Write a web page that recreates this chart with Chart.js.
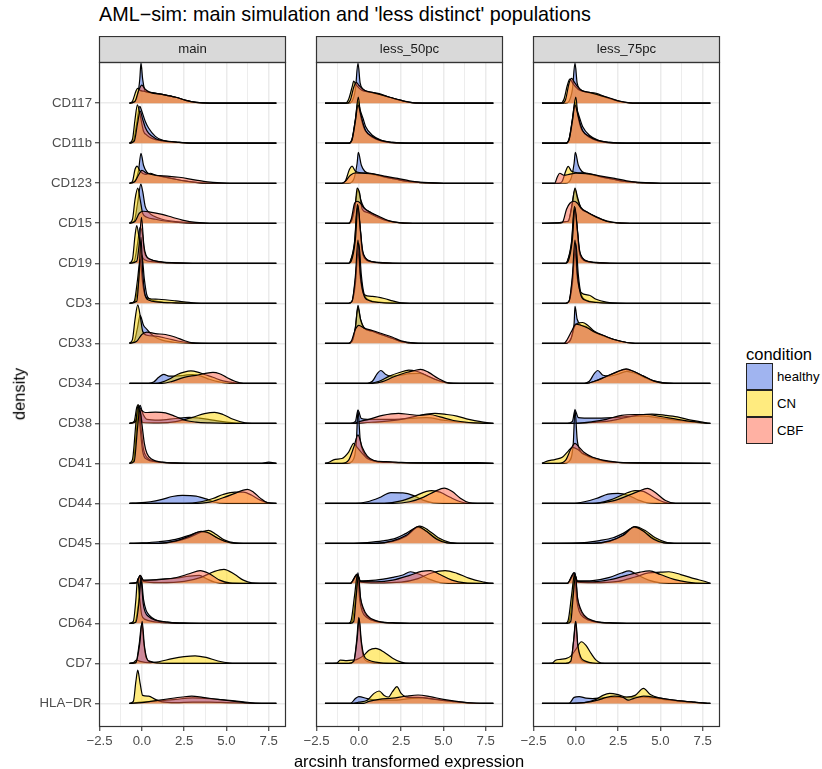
<!DOCTYPE html>
<html lang="en">
<head>
<meta charset="UTF-8">
<title>AML-sim ridges</title>
<script src="https://cdn.jsdelivr.net/npm/chart.js"></script>
<style>
  body { margin: 0; background: #fff; font-family: "Liberation Sans", Arial, sans-serif; }
  #wrap { position: relative; width: 822px; height: 769px; overflow: hidden; background: #fff; }
  canvas { position: absolute; }
  .txt { position: absolute; white-space: nowrap; line-height: 1; color: #000; }
  .key { position: absolute; left: 746px; width: 27px; height: 27px; box-sizing: border-box; border: 1px solid #222; }
  .klab { position: absolute; left: 777px; height: 27px; line-height: 27px; font-size: 13.2px; color: #000; }
</style>
</head>
<body>
<div id="wrap">
  <div class="txt" style="left:99px; top:5px; font-size:19.8px;">AML&minus;sim: main simulation and 'less distinct' populations</div>
  <canvas id="p0" width="300" height="731" style="left:0px; top:36px;"></canvas>
  <canvas id="p1" width="219" height="731" style="left:300px; top:36px;"></canvas>
  <canvas id="p2" width="219" height="731" style="left:517px; top:36px;"></canvas>
  <div class="txt" style="left:19px; top:394px; font-size:16.5px; transform:translate(-50%,-50%) rotate(-90deg);">density</div>
  <div class="txt" style="left:409px; top:761px; font-size:16.5px; transform:translate(-50%,-50%);">arcsinh transformed expression</div>
  <div class="txt" style="left:746px; top:346px; font-size:16.5px;">condition</div>
  <div class="key" style="top:363px; background:rgba(65,105,225,0.5);"></div>
  <div class="key" style="top:390px; background:rgba(255,215,0,0.5);"></div>
  <div class="key" style="top:417px; background:rgba(255,99,71,0.5);"></div>
  <div class="klab" style="top:363px;">healthy</div>
  <div class="klab" style="top:390px;">CN</div>
  <div class="klab" style="top:417px;">CBF</div>
</div>

<script>
const markers = ['CD117','CD11b','CD123','CD15','CD19','CD3','CD33','CD34','CD38','CD41','CD44','CD45','CD47','CD64','CD7','HLA\u2212DR'];
const panelNames = ['main', 'less_50pc', 'less_75pc'];
const conditions = ['healthy', 'CN', 'CBF'];
const xTicks = [-2.5, 0, 2.5, 5, 7.5];
const xMinorTicks = [-1.25, 1.25, 3.75, 6.25];
// x range over which each panel's densities were estimated
const densityRange = [[-0.73, 7.95], [-2.0, 7.95], [-2.0, 7.95]];

// ridge heights, one flat list of (x, scaled density) pairs per marker
const main_healthy = [
  [-0.45,0.03, -0.25,0.2, -0.12,0.6, -0.05,1.0, 0.05,0.6, 0.2,0.3, 0.5,0.26, 1.2,0.22, 2.0,0.15, 2.6,0.07, 3.2,0.02, 4,0],
  [-0.5,0.05, -0.3,0.5, -0.12,0.92, 0,0.8, 0.2,0.55, 0.4,0.38, 0.8,0.17, 1.2,0.08, 2.2,0.02, 3,0],
  [-0.45,0.03, -0.2,0.3, -0.05,0.75, 0.1,0.45, 0.3,0.28, 0.6,0.22, 1.2,0.17, 2,0.1, 3,0.03, 4,0],
  [-0.45,0.05, -0.25,0.5, -0.06,0.98, 0.05,0.8, 0.2,0.42, 0.4,0.28, 0.7,0.18, 1.2,0.1, 2,0.04, 3,0.01, 4,0],
  [-0.45,0.05, -0.25,0.5, -0.1,0.9, 0.05,0.7, 0.15,0.3, 0.3,0.15, 0.6,0.08, 1.2,0.03, 2,0.01, 3,0],
  [-0.4,0.05, -0.2,0.5, 0,1.2, 0.15,0.6, 0.3,0.2, 0.5,0.1, 1,0.04, 2,0.01, 3,0],
  [-0.45,0.05, -0.25,0.4, -0.1,0.7, 0.1,0.45, 0.3,0.35, 0.5,0.25, 0.8,0.15, 1.2,0.08, 2,0.02, 3,0],
  [0.4,0, 0.7,0.03, 1.0,0.15, 1.3,0.225, 1.6,0.18, 2.0,0.18, 2.5,0.2, 3.0,0.22, 3.5,0.18, 4.0,0.1, 4.5,0.04, 5.2,0],
  [-0.4,0.05, -0.2,0.35, -0.1,0.45, 0.05,0.25, 0.3,0.1, 1,0.08, 2,0.12, 2.8,0.15, 3.4,0.13, 4.2,0.08, 5,0.03, 6,0],
  [-0.5,0.05, -0.3,0.9, -0.18,1.42, -0.05,0.9, 0.1,0.35, 0.3,0.15, 0.8,0.05, 1.5,0.02, 2.5,0, 7,0, 7.5,0.03],
  [-0.2,0.01, 0.5,0.04, 1.2,0.1, 1.8,0.17, 2.4,0.2, 3.2,0.18, 3.8,0.11, 4.3,0.03, 5,0],
  [0,0.01, 1,0.04, 2,0.1, 2.8,0.2, 3.5,0.29, 4.0,0.25, 4.6,0.1, 5.2,0.02, 6,0],
  [-0.3,0.02, -0.1,0.2, 0.1,0.07, 1,0.1, 2,0.13, 2.8,0.18, 3.4,0.2, 3.8,0.12, 4.3,0.03, 5,0],
  [-0.4,0.03, -0.2,0.5, -0.05,1.18, 0.1,0.6, 0.25,0.33, 0.45,0.2, 0.8,0.09, 1.5,0.03, 2.5,0.01, 3.5,0],
  [-0.35,0.02, -0.15,0.5, 0,1.0, 0.12,0.5, 0.25,0.15, 0.5,0.05, 1,0.01, 2,0],
  [0,0.03, 1,0.06, 2,0.1, 3,0.14, 4,0.12, 5,0.08, 6,0.04, 6.7,0.01, 7.5,0]
];
const main_CN = [
  [-0.55,0.05, -0.35,0.3, -0.25,0.37, -0.1,0.32, 0.1,0.3, 0.5,0.27, 1.2,0.22, 2.0,0.15, 2.6,0.07, 3.2,0.02, 4,0],
  [-0.55,0.1, -0.4,0.6, -0.26,0.96, -0.1,0.7, 0.1,0.3, 0.3,0.2, 0.6,0.12, 1.2,0.06, 2.2,0.02, 3,0],
  [-0.55,0.05, -0.4,0.35, -0.28,0.43, -0.1,0.3, 0.2,0.22, 0.5,0.25, 0.8,0.2, 1.5,0.14, 2.5,0.06, 3.5,0.01, 4.5,0],
  [-0.55,0.1, -0.4,0.6, -0.24,0.88, -0.1,0.6, 0.05,0.25, 0.3,0.15, 0.8,0.1, 1.5,0.05, 2.5,0.01, 3.5,0],
  [-0.55,0.1, -0.4,0.7, -0.3,0.94, -0.15,0.6, 0,0.2, 0.2,0.08, 0.6,0.04, 1.5,0.01, 2.5,0],
  [-0.45,0.05, -0.25,0.6, -0.1,1.1, 0.05,0.5, 0.2,0.18, 0.4,0.12, 1,0.1, 2,0.06, 2.8,0.02, 3.5,0],
  [-0.55,0.1, -0.4,0.6, -0.24,0.96, -0.1,0.7, 0.05,0.3, 0.3,0.2, 0.8,0.18, 1.5,0.12, 2.2,0.05, 3,0.01, 4,0],
  [0.8,0, 1.2,0.03, 1.6,0.1, 2.1,0.22, 2.5,0.28, 2.9,0.31, 3.3,0.28, 3.7,0.22, 4.2,0.15, 4.8,0.06, 5.5,0.01, 6,0],
  [-0.45,0.05, -0.3,0.4, -0.22,0.46, -0.1,0.3, 0.05,0.02, 1,0.01, 2,0.04, 3,0.15, 3.7,0.24, 4.3,0.275, 4.8,0.22, 5.4,0.1, 6.1,0.01, 6.5,0],
  [-0.55,0.1, -0.35,1.0, -0.22,1.47, -0.1,0.9, 0.05,0.3, 0.3,0.1, 0.8,0.04, 1.5,0.01, 2.5,0],
  [2.5,0, 3.5,0.04, 4.2,0.12, 4.8,0.22, 5.5,0.28, 6.0,0.28, 6.5,0.2, 7,0.08, 7.5,0.01, 7.9,0],
  [1,0, 2,0.05, 2.8,0.15, 3.5,0.28, 3.95,0.325, 4.4,0.22, 4.9,0.08, 5.5,0.01, 6,0],
  [-0.3,0.02, -0.1,0.18, 0.1,0.05, 1,0.02, 2.5,0.05, 3.5,0.15, 4.3,0.3, 4.85,0.35, 5.5,0.22, 6.0,0.08, 6.5,0.01, 7,0],
  [-0.5,0.05, -0.35,0.6, -0.25,1.12, -0.12,0.6, 0,0.2, 0.2,0.1, 0.6,0.05, 1.5,0.01, 2.5,0],
  [-0.5,0.02, -0.3,0.08, -0.1,0.05, 0.5,0.02, 1,0.04, 1.8,0.12, 2.5,0.17, 3.15,0.19, 3.8,0.15, 4.5,0.06, 5.2,0.01, 6,0],
  [-0.5,0.05, -0.35,0.55, -0.24,0.83, -0.1,0.5, 0.05,0.2, 0.4,0.18, 0.8,0.1, 1.2,0.04, 2,0.02, 3,0.03, 4,0.03, 5,0.02, 6,0.01, 7,0]
];
const main_CBF = [
  [-0.4,0.05, -0.2,0.3, 0,0.45, 0.2,0.35, 0.5,0.27, 1.2,0.22, 2,0.15, 2.6,0.07, 3.2,0.02, 4,0],
  [-0.45,0.05, -0.25,0.5, -0.1,0.8, 0.05,0.6, 0.2,0.4, 0.4,0.25, 0.8,0.12, 1.2,0.07, 2.2,0.02, 3,0],
  [-0.4,0.05, -0.2,0.2, 0,0.32, 0.3,0.25, 0.8,0.2, 1.5,0.18, 2.2,0.15, 3.2,0.08, 4.2,0.02, 5.2,0],
  [-0.4,0.05, -0.15,0.25, 0.1,0.3, 0.5,0.28, 1.2,0.22, 1.8,0.15, 2.4,0.08, 3.2,0.02, 4,0],
  [-0.3,0.05, -0.15,0.5, -0.02,1.15, 0.12,0.45, 0.25,0.2, 0.5,0.1, 1,0.04, 2,0.01, 3,0],
  [-0.3,0.05, -0.15,0.8, -0.05,1.65, 0.05,0.8, 0.2,0.2, 0.4,0.08, 1,0.03, 2,0.01, 3,0],
  [-0.3,0.05, 0,0.22, 0.3,0.28, 0.8,0.24, 1.4,0.22, 2,0.15, 2.5,0.07, 3,0.01, 3.5,0],
  [1.2,0, 1.8,0.05, 2.5,0.15, 3.2,0.2, 3.7,0.24, 4.2,0.275, 4.6,0.24, 5.0,0.15, 5.5,0.05, 6,0],
  [-0.35,0.05, -0.15,0.4, 0,0.32, 0.2,0.27, 0.8,0.28, 1.4,0.26, 2,0.17, 2.6,0.07, 3.2,0.03, 4,0.01, 5,0],
  [-0.45,0.05, -0.25,0.9, -0.12,1.35, 0,1.0, 0.15,0.5, 0.3,0.25, 0.6,0.1, 1.2,0.03, 2,0.01, 3,0],
  [3,0, 4,0.03, 4.8,0.14, 5.5,0.25, 6.0,0.33, 6.25,0.35, 6.6,0.28, 7.0,0.13, 7.4,0.02, 7.9,0],
  [1,0, 2,0.06, 2.8,0.18, 3.5,0.3, 3.9,0.27, 4.4,0.15, 5,0.04, 5.6,0],
  [-0.3,0.02, -0.1,0.2, 0.1,0.08, 1,0.09, 2,0.14, 2.8,0.24, 3.45,0.32, 4.0,0.24, 4.6,0.08, 5.2,0.01, 6,0],
  [-0.35,0.03, -0.15,0.6, -0.05,1.1, 0.08,0.5, 0.2,0.28, 0.4,0.17, 0.8,0.08, 1.5,0.03, 2.5,0],
  [-0.35,0.02, -0.12,0.5, 0.02,1.05, 0.15,0.45, 0.3,0.12, 0.5,0.04, 1,0.01, 2,0],
  [0,0.02, 0.5,0.05, 1.5,0.11, 2.4,0.16, 2.95,0.18, 3.6,0.15, 4.5,0.1, 5.5,0.05, 6.3,0.01, 7,0]
];

const less50_healthy = [
  [-0.6,0, -0.4,0.05, -0.2,0.35, -0.05,1.0, 0.08,0.5, 0.25,0.35, 0.6,0.28, 1.2,0.22, 1.8,0.15, 2.5,0.07, 3,0.02, 3.8,0],
  [-0.6,0, -0.4,0.1, -0.2,0.6, -0.05,1.04, 0.1,0.8, 0.25,0.62, 0.4,0.42, 0.8,0.2, 1.3,0.08, 2,0.02, 3,0],
  [-0.6,0, -0.3,0.1, -0.1,0.5, -0.03,0.77, 0.15,0.45, 0.35,0.3, 0.8,0.22, 1.5,0.16, 2.2,0.1, 3,0.04, 4,0.01, 5,0],
  [-0.6,0, -0.4,0.1, -0.2,0.5, -0.05,0.85, 0.1,0.6, 0.3,0.4, 0.7,0.27, 1.2,0.15, 1.8,0.05, 2.5,0.01, 3.5,0],
  [-0.6,0, -0.5,0.05, -0.25,0.5, -0.08,1.4, 0.08,0.9, 0.2,0.33, 0.35,0.15, 0.7,0.05, 1.2,0.02, 2,0],
  [-0.6,0, -0.4,0.05, -0.2,0.6, 0,1.5, 0.15,0.7, 0.3,0.25, 0.6,0.08, 1.2,0.03, 2,0.01, 3,0],
  [-0.6,0, -0.4,0.05, -0.2,0.4, -0.05,0.95, 0.1,0.6, 0.3,0.38, 0.8,0.3, 1.3,0.22, 2,0.12, 2.5,0.04, 3,0.01, 3.5,0],
  [0.5,0, 0.8,0.05, 1.1,0.25, 1.3,0.32, 1.6,0.22, 1.9,0.18, 2.4,0.2, 3,0.24, 3.6,0.25, 4.2,0.15, 4.8,0.05, 5.4,0],
  [-0.5,0, -0.2,0.05, -0.05,0.33, 0.15,0.12, 0.5,0.1, 1.2,0.1, 2,0.1, 3,0.12, 4,0.14, 5,0.08, 6,0.03, 7,0.01, 7.9,0],
  [-0.7,0, -0.4,0.05, -0.15,0.5, -0.05,1.33, 0.08,0.6, 0.25,0.3, 0.6,0.12, 1,0.05, 2,0.02, 4,0.01, 7,0.02, 7.9,0],
  [-0.2,0, 0.5,0.04, 1.2,0.14, 1.9,0.27, 2.6,0.26, 3.2,0.2, 3.8,0.08, 4.4,0.01, 5,0],
  [-0.5,0, 0.5,0.02, 1.4,0.06, 2.2,0.13, 2.8,0.25, 3.5,0.4, 4,0.3, 4.6,0.12, 5.2,0.02, 6,0],
  [-0.5,0, -0.1,0.23, 0.1,0.06, 1,0.08, 2,0.15, 2.6,0.21, 3.05,0.29, 3.5,0.24, 4.2,0.1, 4.8,0.02, 5.5,0],
  [-0.6,0, -0.4,0.05, -0.2,0.6, -0.05,1.27, 0.1,0.6, 0.25,0.35, 0.5,0.17, 1,0.06, 2,0.01, 3,0],
  [-0.6,0, -0.3,0.05, -0.12,0.6, 0,1.15, 0.12,0.6, 0.25,0.2, 0.5,0.05, 1,0.01, 2,0],
  [-0.5,0, -0.2,0.12, 0,0.17, 0.5,0.12, 1,0.08, 2,0.08, 3,0.12, 3.8,0.14, 4.6,0.1, 5.5,0.05, 6.5,0.01, 7.5,0]
];
const less50_CN = [
  [-0.8,0, -0.6,0.1, -0.4,0.4, -0.3,0.55, -0.15,0.45, 0.2,0.32, 0.6,0.28, 1.2,0.24, 1.8,0.15, 2.5,0.07, 3,0.02, 3.8,0],
  [-0.6,0, -0.4,0.1, -0.2,0.6, -0.03,1.15, 0.1,0.7, 0.25,0.45, 0.4,0.3, 0.8,0.15, 1.3,0.06, 2,0.01, 3,0],
  [-1,0, -0.8,0.05, -0.55,0.35, -0.4,0.43, -0.2,0.3, 0.2,0.26, 0.7,0.25, 1.5,0.16, 2.2,0.1, 3,0.04, 4,0.01, 5,0],
  [-0.6,0, -0.4,0.1, -0.2,0.5, -0.1,0.88, 0.05,0.75, 0.2,0.35, 0.5,0.27, 1,0.17, 1.6,0.07, 2.5,0.01, 3.5,0],
  [-0.6,0, -0.5,0.05, -0.25,0.55, -0.08,1.47, 0.08,0.85, 0.2,0.3, 0.35,0.12, 0.7,0.04, 1.2,0.01, 2,0],
  [-0.6,0, -0.4,0.05, -0.2,0.5, -0.05,1.3, 0.1,0.6, 0.3,0.22, 0.8,0.17, 1.5,0.12, 2,0.06, 2.5,0.01, 3,0],
  [-0.6,0, -0.4,0.05, -0.2,0.4, -0.05,0.9, 0.1,0.6, 0.3,0.4, 0.8,0.3, 1.3,0.22, 2,0.12, 2.5,0.04, 3,0.01, 3.5,0],
  [0.6,0, 1.2,0.05, 1.8,0.18, 2.4,0.27, 2.95,0.33, 3.4,0.3, 3.9,0.22, 4.5,0.1, 5.1,0.02, 5.8,0],
  [-0.3,0, 0.5,0.02, 1.5,0.05, 2.5,0.1, 3.4,0.18, 4.0,0.23, 4.5,0.25, 5.2,0.22, 5.8,0.18, 6.5,0.1, 7.2,0.04, 7.9,0],
  [-1.8,0.02, -1.4,0.1, -1,0.12, -0.6,0.28, -0.3,0.5, -0.1,0.4, 0.2,0.25, 0.5,0.12, 1,0.05, 2,0.02, 4,0.01, 7.9,0],
  [1.5,0, 2.5,0.06, 3.3,0.18, 4.0,0.3, 4.3,0.32, 4.8,0.28, 5.4,0.15, 6,0.04, 6.5,0],
  [1,0, 2,0.05, 2.8,0.18, 3.6,0.43, 4.1,0.33, 4.7,0.14, 5.4,0.02, 6,0],
  [-0.5,0, -0.1,0.2, 0.1,0.03, 1,0.01, 2.5,0.03, 3.5,0.12, 4.3,0.26, 5.1,0.32, 5.8,0.25, 6.5,0.13, 7.3,0.04, 7.9,0],
  [-0.6,0, -0.45,0.08, -0.25,0.7, -0.08,1.22, 0.05,0.6, 0.2,0.3, 0.5,0.14, 1,0.05, 2,0.01, 3,0],
  [-1.3,0.01, -1.1,0.08, -0.7,0.07, -0.4,0.08, -0.1,0.1, 0.3,0.2, 0.6,0.33, 1,0.375, 1.5,0.28, 2,0.13, 2.5,0.03, 3,0],
  [-0.5,0, 0,0.03, 0.5,0.08, 0.9,0.25, 1.2,0.31, 1.5,0.2, 1.75,0.16, 2.0,0.3, 2.25,0.42, 2.5,0.25, 2.9,0.15, 3.5,0.15, 4.5,0.1, 5.5,0.05, 6.5,0.01, 7.5,0]
];
const less50_CBF = [
  [-0.7,0, -0.5,0.08, -0.3,0.4, -0.15,0.52, 0,0.45, 0.3,0.33, 0.8,0.27, 1.4,0.2, 2,0.13, 2.6,0.06, 3.2,0.01, 4,0],
  [-0.6,0, -0.4,0.08, -0.2,0.55, -0.05,0.95, 0.1,0.75, 0.25,0.5, 0.4,0.32, 0.8,0.17, 1.3,0.07, 2,0.02, 3,0],
  [-1,0, -0.8,0.05, -0.5,0.2, -0.2,0.26, 0.2,0.25, 0.7,0.24, 1.5,0.18, 2.3,0.12, 3,0.06, 3.8,0.02, 5,0],
  [-0.6,0, -0.45,0.1, -0.25,0.5, -0.1,0.55, 0.1,0.5, 0.3,0.38, 0.7,0.27, 1.2,0.17, 1.8,0.06, 2.5,0.01, 3.5,0],
  [-0.6,0, -0.45,0.05, -0.2,0.6, -0.05,1.45, 0.1,0.8, 0.22,0.33, 0.4,0.13, 0.8,0.04, 1.5,0.01, 2.5,0],
  [-0.6,0, -0.4,0.05, -0.2,0.7, -0.05,1.58, 0.1,0.7, 0.3,0.2, 0.6,0.07, 1.2,0.02, 2,0],
  [-0.6,0, -0.45,0.05, -0.2,0.35, 0,0.45, 0.3,0.38, 0.8,0.32, 1.3,0.25, 2,0.15, 2.5,0.06, 3.2,0.01, 4,0],
  [0.8,0, 1.4,0.04, 2,0.15, 2.8,0.27, 3.3,0.32, 3.65,0.35, 4.1,0.28, 4.7,0.12, 5.3,0.01, 6,0],
  [-0.3,0, 0,0.04, 0.6,0.1, 1.4,0.2, 2.35,0.25, 3,0.22, 3.6,0.2, 4.2,0.22, 4.8,0.16, 5.6,0.07, 6.5,0.02, 7.5,0],
  [-1,0, -0.6,0.08, -0.3,0.4, -0.05,0.71, 0.2,0.4, 0.5,0.18, 0.9,0.07, 1.6,0.04, 2.2,0.03, 3,0.01, 7.9,0],
  [2,0, 3,0.04, 3.8,0.15, 4.5,0.3, 5.05,0.38, 5.5,0.3, 6,0.13, 6.5,0.02, 7,0],
  [1,0, 2,0.06, 2.8,0.2, 3.5,0.42, 4,0.3, 4.6,0.1, 5.2,0.01, 6,0],
  [-0.5,0, -0.1,0.22, 0.1,0.05, 1,0.04, 2,0.08, 3,0.2, 3.7,0.3, 4.25,0.32, 4.8,0.22, 5.5,0.08, 6.3,0.01, 7,0],
  [-0.5,0, -0.3,0.05, -0.15,0.7, -0.02,1.2, 0.1,0.65, 0.25,0.4, 0.5,0.2, 1,0.07, 2,0.01, 3,0],
  [-0.6,0, -0.3,0.05, -0.1,0.6, 0.02,1.12, 0.15,0.55, 0.3,0.2, 0.6,0.08, 1,0.03, 2,0],
  [0.3,0, 0.6,0.05, 1.2,0.1, 2,0.13, 2.8,0.18, 3.5,0.21, 4.2,0.17, 5,0.1, 6,0.04, 6.8,0.01, 7.5,0]
];

const less75_healthy = [
  [-0.6,0, -0.4,0.05, -0.2,0.35, -0.05,1.0, 0.08,0.5, 0.25,0.35, 0.6,0.28, 1.2,0.22, 1.8,0.14, 2.5,0.05, 3.2,0.01, 4,0],
  [-0.6,0, -0.4,0.1, -0.2,0.6, -0.05,1.02, 0.1,0.8, 0.25,0.6, 0.4,0.42, 0.8,0.2, 1.3,0.08, 2,0.02, 3,0],
  [-0.6,0, -0.3,0.1, -0.1,0.5, -0.03,0.77, 0.15,0.45, 0.35,0.3, 0.8,0.22, 1.5,0.16, 2.2,0.1, 3,0.04, 4,0.01, 5,0],
  [-0.45,0.05, -0.25,0.4, -0.05,0.85, 0.1,0.6, 0.3,0.4, 0.7,0.27, 1.2,0.15, 1.8,0.05, 2.5,0.01, 3.5,0],
  [-0.6,0, -0.5,0.05, -0.25,0.5, -0.08,1.35, 0.08,0.9, 0.2,0.33, 0.35,0.15, 0.7,0.05, 1.2,0.02, 2,0],
  [-0.6,0, -0.4,0.05, -0.2,0.6, 0,1.5, 0.15,0.7, 0.3,0.25, 0.6,0.08, 1.2,0.03, 2,0.01, 3,0],
  [-0.6,0, -0.3,0.1, -0.1,0.5, -0.05,0.92, 0.08,0.6, 0.3,0.45, 0.6,0.42, 1,0.3, 1.5,0.2, 2.2,0.1, 3,0.02, 3.5,0],
  [0.5,0, 0.8,0.05, 1.1,0.25, 1.3,0.32, 1.6,0.2, 2,0.18, 2.5,0.23, 3,0.3, 3.5,0.25, 4.2,0.12, 4.8,0.03, 5.4,0],
  [-0.5,0, -0.2,0.05, -0.05,0.33, 0.15,0.14, 0.5,0.13, 1.5,0.13, 2.2,0.14, 3,0.17, 4,0.18, 5,0.13, 6,0.07, 7,0.03, 7.9,0],
  [-0.7,0, -0.4,0.05, -0.15,0.5, -0.05,1.35, 0.08,0.6, 0.25,0.32, 0.6,0.2, 1,0.12, 1.6,0.06, 2.5,0.02, 4,0.01, 7.9,0],
  [-0.2,0, 0.5,0.04, 1.2,0.12, 1.9,0.23, 2.5,0.25, 3.1,0.2, 3.7,0.08, 4.3,0.01, 5,0],
  [0.5,0.02, 1.4,0.07, 2.2,0.14, 2.8,0.25, 3.45,0.4, 4,0.3, 4.6,0.12, 5.2,0.02, 6,0],
  [-0.5,0, -0.1,0.27, 0.1,0.06, 1,0.07, 2,0.15, 2.7,0.26, 3.15,0.31, 3.6,0.22, 4.3,0.08, 5,0.01, 5.5,0],
  [-0.6,0, -0.4,0.05, -0.2,0.6, -0.05,1.27, 0.1,0.6, 0.25,0.35, 0.5,0.17, 1,0.06, 2,0.01, 3,0],
  [-0.6,0, -0.3,0.05, -0.12,0.6, -0.02,1.05, 0.1,0.5, 0.25,0.15, 0.5,0.04, 1,0.01, 2,0],
  [-0.4,0, -0.1,0.15, 0.2,0.17, 0.6,0.13, 1,0.12, 1.6,0.14, 2.5,0.15, 3.5,0.16, 4.5,0.14, 5.5,0.08, 6.5,0.04, 7.5,0.01]
];
const less75_CN = [
  [-0.9,0, -0.7,0.1, -0.5,0.45, -0.35,0.6, -0.15,0.48, 0.2,0.33, 0.6,0.28, 1.2,0.25, 1.8,0.15, 2.5,0.06, 3.2,0.01, 4,0],
  [-0.6,0, -0.4,0.1, -0.2,0.6, 0,1.15, 0.12,0.7, 0.25,0.45, 0.4,0.3, 0.8,0.15, 1.3,0.06, 2,0.01, 3,0],
  [-1,0, -0.8,0.05, -0.6,0.3, -0.45,0.42, -0.25,0.3, 0.2,0.26, 0.7,0.25, 1.5,0.16, 2.2,0.1, 3,0.04, 4,0.01, 5,0],
  [-0.45,0.05, -0.2,0.5, -0.05,0.88, 0.1,0.65, 0.3,0.38, 0.7,0.27, 1.2,0.16, 1.8,0.06, 2.5,0.01, 3.5,0],
  [-0.6,0, -0.5,0.05, -0.25,0.55, -0.08,1.42, 0.08,0.85, 0.2,0.3, 0.35,0.12, 0.7,0.04, 1.2,0.01, 2,0],
  [-0.6,0, -0.4,0.05, -0.2,0.5, -0.05,1.3, 0.1,0.6, 0.3,0.27, 0.8,0.2, 1.2,0.1, 1.8,0.03, 2.5,0],
  [-0.6,0, -0.3,0.1, -0.1,0.4, 0.1,0.5, 0.4,0.52, 0.7,0.45, 1.1,0.3, 1.6,0.2, 2.2,0.1, 3,0.02, 3.5,0],
  [0.6,0, 1.1,0.05, 1.7,0.15, 2.4,0.28, 2.95,0.35, 3.4,0.3, 4,0.18, 4.6,0.06, 5.2,0.01, 5.8,0],
  [0,0, 1,0.02, 2,0.06, 3,0.15, 3.8,0.21, 4.5,0.23, 5.3,0.2, 6,0.16, 6.8,0.08, 7.5,0.03, 7.9,0],
  [-1.8,0.04, -1.2,0.1, -0.8,0.15, -0.5,0.28, -0.2,0.4, 0.1,0.35, 0.4,0.25, 0.8,0.17, 1.2,0.12, 1.8,0.05, 2.5,0.02, 4,0.01, 7.9,0],
  [1,0, 2,0.08, 2.8,0.22, 3.5,0.32, 4,0.3, 4.6,0.15, 5.2,0.03, 5.8,0],
  [1,0, 2,0.05, 2.8,0.2, 3.5,0.42, 4.1,0.32, 4.7,0.14, 5.4,0.02, 6,0],
  [-0.5,0, -0.1,0.22, 0.1,0.03, 1,0.02, 2.5,0.05, 3.5,0.16, 4.3,0.26, 5,0.28, 5.5,0.29, 6.2,0.22, 7,0.12, 7.9,0.01],
  [-0.6,0, -0.45,0.08, -0.25,0.7, -0.08,1.22, 0.05,0.6, 0.2,0.3, 0.5,0.14, 1,0.05, 2,0.01, 3,0],
  [-1.4,0.01, -1.2,0.08, -0.9,0.1, -0.6,0.12, -0.3,0.18, 0,0.35, 0.33,0.54, 0.6,0.45, 0.9,0.25, 1.2,0.08, 1.5,0.01, 2,0],
  [-0.5,0, 0.5,0.02, 1.2,0.1, 1.6,0.2, 2.0,0.25, 2.5,0.22, 3,0.16, 3.5,0.2, 4.0,0.375, 4.4,0.22, 5,0.13, 6,0.07, 7,0.03, 7.9,0]
];
const less75_CBF = [
  [-0.8,0, -0.6,0.1, -0.4,0.5, -0.25,0.62, -0.05,0.5, 0.3,0.33, 0.8,0.27, 1.4,0.2, 2,0.13, 2.6,0.05, 3.2,0.01, 4,0],
  [-0.6,0, -0.4,0.08, -0.2,0.55, -0.05,0.95, 0.1,0.75, 0.25,0.5, 0.4,0.32, 0.8,0.17, 1.3,0.07, 2,0.02, 3,0],
  [-1.25,0, -1.1,0.15, -0.95,0.25, -0.7,0.2, -0.4,0.22, 0,0.25, 0.6,0.24, 1.5,0.18, 2.3,0.12, 3,0.06, 3.8,0.02, 5,0],
  [-0.9,0, -0.75,0.05, -0.55,0.35, -0.35,0.5, -0.1,0.55, 0.1,0.5, 0.3,0.38, 0.7,0.27, 1.2,0.16, 1.8,0.05, 2.5,0.01, 3.5,0],
  [-0.6,0, -0.45,0.05, -0.2,0.6, -0.05,1.4, 0.1,0.8, 0.22,0.33, 0.4,0.13, 0.8,0.04, 1.5,0.01, 2.5,0],
  [-0.6,0, -0.4,0.05, -0.2,0.7, -0.05,1.58, 0.1,0.7, 0.3,0.2, 0.6,0.07, 1.2,0.02, 2,0],
  [-0.7,0, -0.5,0.1, -0.25,0.3, 0,0.48, 0.3,0.45, 0.7,0.38, 1.1,0.28, 1.6,0.2, 2.2,0.1, 3,0.02, 3.5,0],
  [0.6,0, 1.1,0.05, 1.7,0.15, 2.4,0.28, 3,0.36, 3.4,0.3, 4,0.18, 4.6,0.06, 5.2,0.01, 5.8,0],
  [0,0, 1,0.04, 1.8,0.1, 2.7,0.2, 3.5,0.22, 4.2,0.22, 5,0.17, 6,0.1, 7,0.04, 7.9,0],
  [-1,0, -0.6,0.08, -0.3,0.35, -0.05,0.5, 0.2,0.4, 0.5,0.27, 1,0.15, 1.6,0.08, 2.4,0.03, 3.2,0.01, 7.9,0],
  [1.2,0, 2.2,0.06, 3,0.18, 3.7,0.3, 4.23,0.375, 4.7,0.27, 5.3,0.07, 5.9,0],
  [1,0, 2,0.06, 2.8,0.2, 3.45,0.41, 4,0.3, 4.6,0.1, 5.2,0.01, 6,0],
  [-0.5,0, -0.1,0.25, 0.1,0.05, 1,0.04, 2,0.09, 3,0.2, 3.8,0.28, 4.35,0.31, 5,0.22, 5.8,0.1, 6.6,0.03, 7.5,0],
  [-0.5,0, -0.3,0.05, -0.15,0.7, -0.02,1.2, 0.1,0.65, 0.25,0.4, 0.5,0.2, 1,0.07, 2,0.01, 3,0],
  [-0.6,0, -0.3,0.05, -0.12,0.6, 0,1.05, 0.12,0.45, 0.3,0.15, 0.6,0.05, 1,0.01, 2,0],
  [-0.5,0, 0.5,0.02, 1.3,0.08, 1.8,0.15, 2.3,0.18, 2.8,0.15, 3.1,0.08, 3.4,0.12, 4,0.18, 5,0.13, 6,0.07, 7,0.03, 7.9,0]
];

const curves = [
  [main_healthy, main_CN, main_CBF],
  [less50_healthy, less50_CN, less50_CBF],
  [less75_healthy, less75_CN, less75_CBF]
];

const fills = ['rgba(65,105,225,0.5)', 'rgba(255,215,0,0.5)', 'rgba(255,99,71,0.5)'];
const FONT = '"Liberation Sans", Arial, sans-serif';
const nRows = markers.length;

function fmtTick(v) {
  const s = Math.abs(v).toFixed(1);
  return v < 0 ? '\u2212' + s : s;
}

// ridges drawn top row first, healthy -> CN -> CBF, later ones on top
function buildDatasets(p) {
  const ds = [];
  const [from, to] = densityRange[p];
  markers.forEach((m, i) => {
    const base = nRows - i;
    conditions.forEach((c, k) => {
      const flat = curves[p][k][i];
      const pts = [{x: from, y: base}];
      for (let j = 0; j < flat.length; j += 2) pts.push({x: flat[j], y: base + flat[j + 1]});
      pts.push({x: to, y: base});
      ds.push({
        label: m + ' ' + c,
        data: pts,
        fill: {value: base},
        backgroundColor: fills[k],
        borderColor: '#000000',
        borderWidth: 1.2,
        pointRadius: 0,
        cubicInterpolationMode: 'monotone'
      });
    });
  });
  ds.forEach((d, n) => { d.order = ds.length - n; });
  return ds;
}

const panelDecor = {
  id: 'panelDecor',
  afterDraw(chart, args, opts) {
    const {ctx, chartArea: a} = chart;
    ctx.save();
    ctx.fillStyle = '#D9D9D9';
    ctx.fillRect(a.left, a.top - 26, a.right - a.left, 26);
    ctx.strokeStyle = '#333333';
    ctx.lineWidth = 1.2;
    ctx.strokeRect(a.left + 0.5, a.top - 25.5, a.right - a.left - 1, 26);
    ctx.fillStyle = '#1A1A1A';
    ctx.font = '13.2px ' + FONT;
    ctx.textAlign = 'center';
    ctx.textBaseline = 'middle';
    ctx.fillText(opts.label, (a.left + a.right) / 2, a.top - 12.5);
    ctx.strokeRect(a.left + 0.5, a.top + 0.5, a.right - a.left - 1, a.bottom - a.top - 1);
    ctx.restore();
  }
};

function makePanel(p) {
  const first = p === 0;
  new Chart(document.getElementById('p' + p), {
    type: 'line',
    data: {datasets: buildDatasets(p)},
    plugins: [panelDecor],
    options: {
      responsive: false,
      animation: false,
      events: [],
      layout: {padding: {top: 26, bottom: 0, left: first ? 0 : 16, right: first ? 14 : 16}},
      plugins: {
        legend: {display: false},
        tooltip: {enabled: false},
        panelDecor: {label: panelNames[p]}
      },
      scales: {
        x: {
          type: 'linear',
          min: -2.53,
          max: 8.52,
          afterBuildTicks: s => { s.ticks = xTicks.concat(xMinorTicks).sort((a, b) => a - b).map(v => ({value: v})); },
          afterFit: s => { s.height = 40; },
          ticks: {
            autoSkip: false, maxRotation: 0, padding: 2, color: '#4D4D4D',
            font: {size: 13.2, family: FONT},
            callback: v => xTicks.includes(v) ? fmtTick(v) : ''
          },
          grid: {
            color: '#EBEBEB',
            lineWidth: c => (c.tick && xTicks.includes(c.tick.value)) ? 1.5 : 0.9,
            tickColor: c => (c.tick && xTicks.includes(c.tick.value)) ? '#333333' : 'rgba(0,0,0,0)',
            tickLength: 4,
            tickWidth: 1.1
          },
          border: {display: false}
        },
        y: {
          type: 'linear',
          min: 0.41,
          max: 17.03,
          afterBuildTicks: s => { s.ticks = markers.map((m, i) => ({value: nRows - i})); },
          afterFit: s => { s.width = first ? 99 : 0; },
          ticks: {
            display: first, autoSkip: false, padding: 3, color: '#4D4D4D',
            font: {size: 13.2, family: FONT},
            callback: v => markers[nRows - v]
          },
          grid: {
            color: '#EBEBEB', lineWidth: 1.5,
            drawTicks: first, tickColor: '#333333', tickLength: 4, tickWidth: 1.1
          },
          border: {display: false}
        }
      }
    }
  });
}

panelNames.forEach((n, p) => makePanel(p));
</script>
</body>
</html>
